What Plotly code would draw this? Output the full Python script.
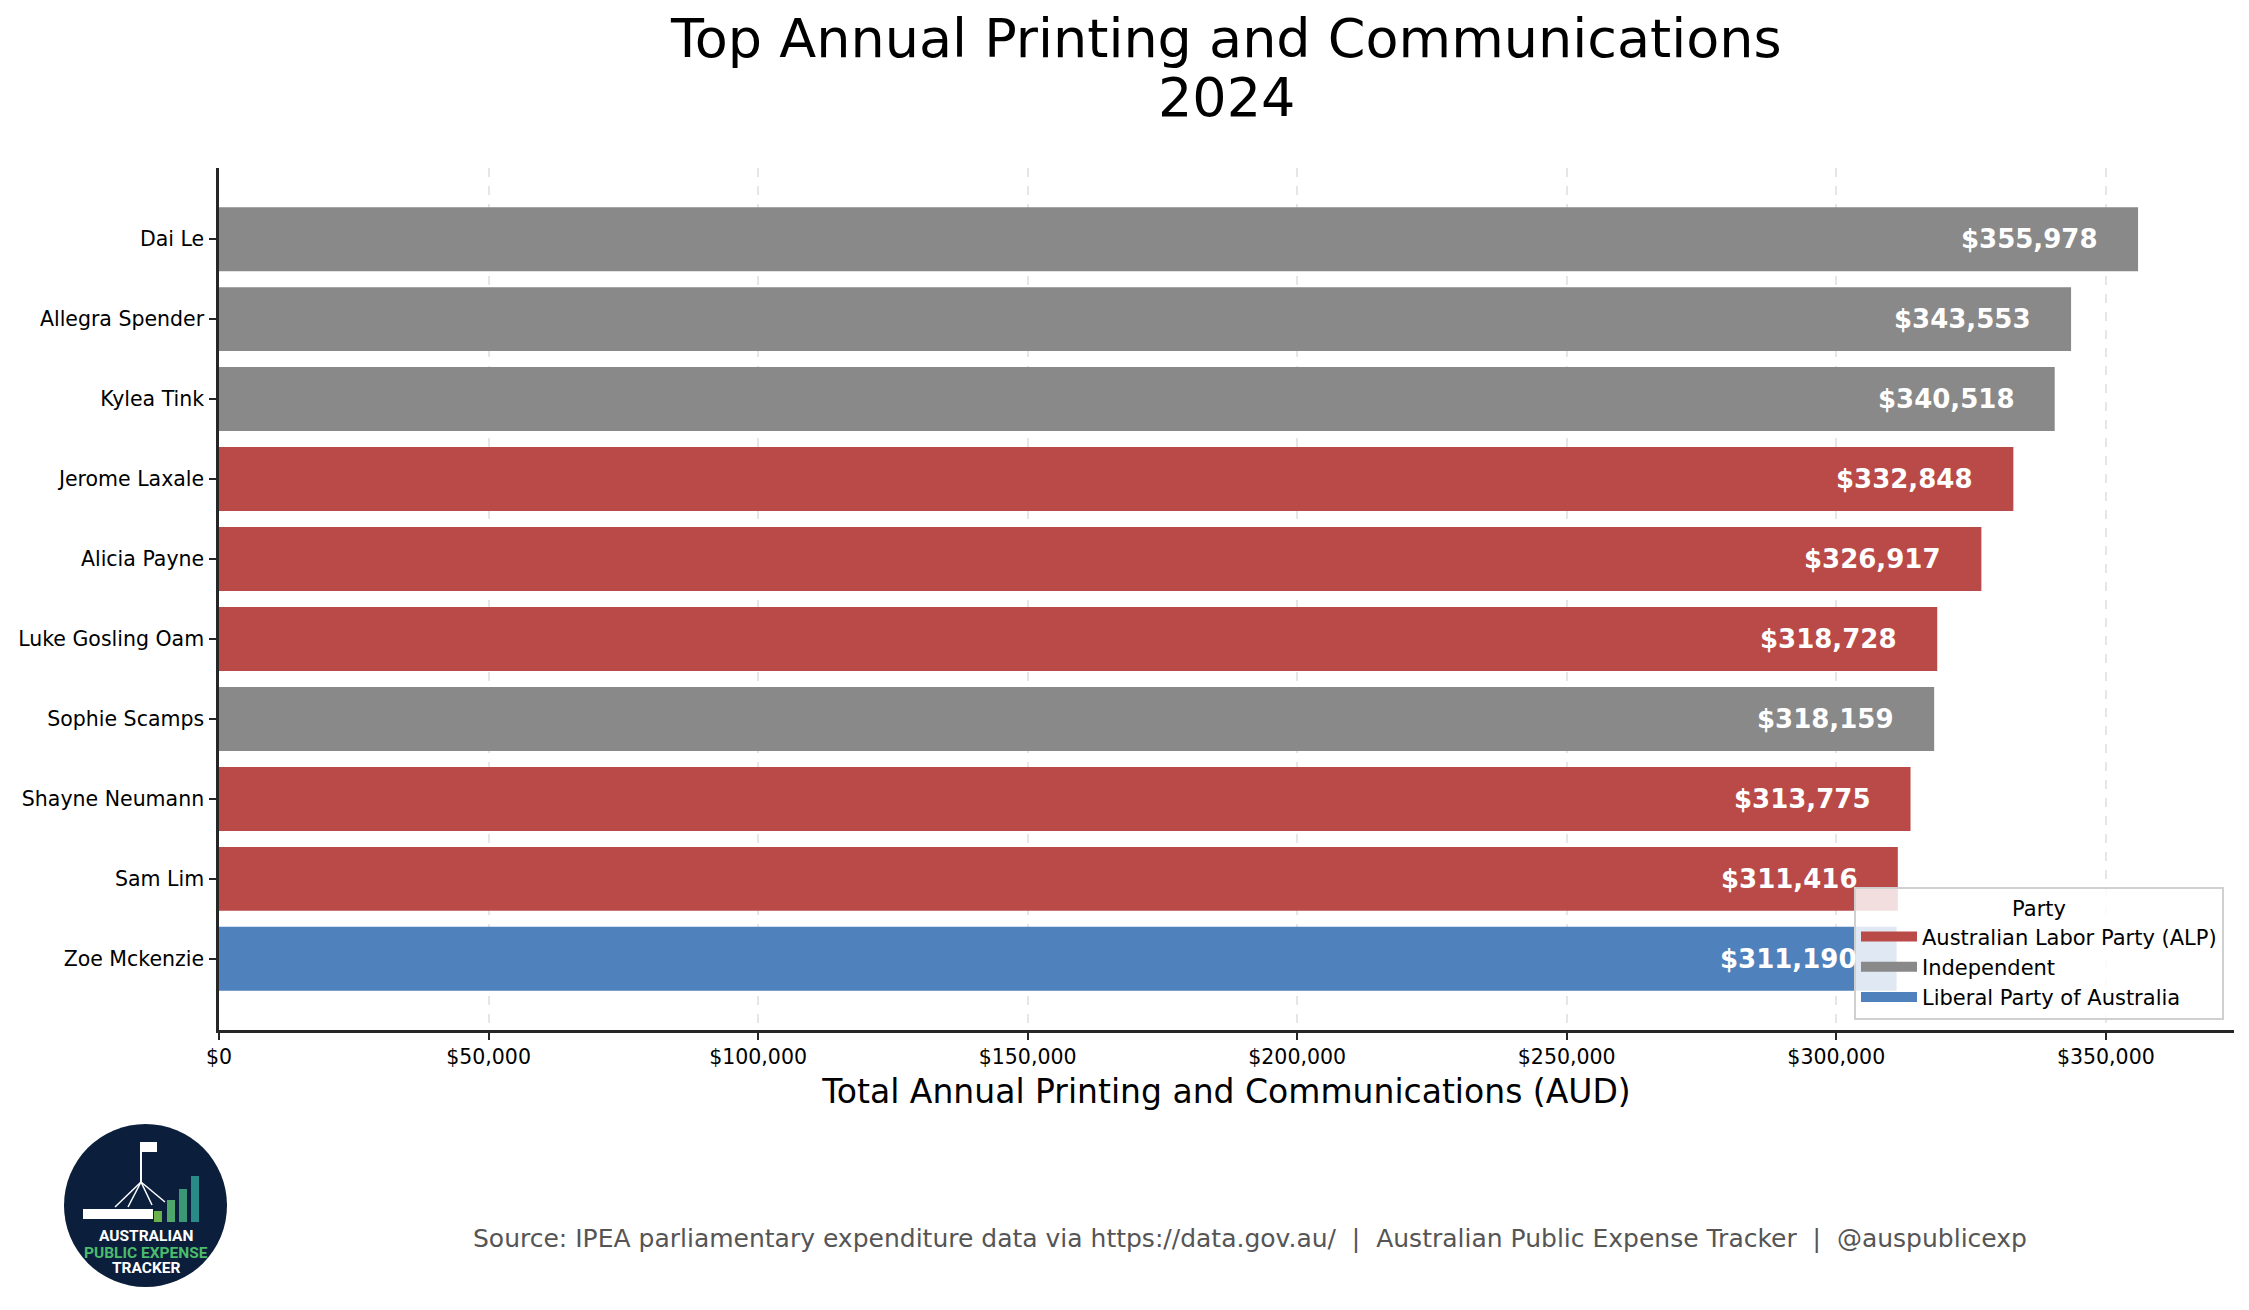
import plotly.graph_objects as go

# data
members = [
    "Dai Le", "Allegra Spender", "Kylea Tink", "Jerome Laxale", "Alicia Payne",
    "Luke Gosling Oam", "Sophie Scamps", "Shayne Neumann", "Sam Lim", "Zoe Mckenzie",
]
totals = [355978, 343553, 340518, 332848, 326917, 318728, 318159, 313775, 311416, 311190]
parties = [
    "Independent", "Independent", "Independent",
    "Australian Labor Party (ALP)", "Australian Labor Party (ALP)", "Australian Labor Party (ALP)",
    "Independent",
    "Australian Labor Party (ALP)", "Australian Labor Party (ALP)",
    "Liberal Party of Australia",
]
legend_order = ["Australian Labor Party (ALP)", "Independent", "Liberal Party of Australia"]
party_colors = {
    "Australian Labor Party (ALP)": "#b94a48",
    "Independent": "#898989",
    "Liberal Party of Australia": "#4f81bd",
}
x_ticks = [0, 50000, 100000, 150000, 200000, 250000, 300000, 350000]
x_tick_text = [f"${v:,}" for v in x_ticks]

# the page puts the figure 8px in from the top-left corner
OFF = 8
W, H = 2249 - 2 * OFF, 1310 - 2 * OFF
# plot area in page pixels (from the reference)
PL, PR, PT, PB = 219, 2234, 168, 1030
PW, PH = PR - PL, PB - PT
FONT = "DejaVu Sans"


def px_x(p):
    return (p - PL) / PW


def px_y(p):
    return (PB - p) / PH


fig = go.Figure()
fig.add_trace(go.Bar(
    x=totals, y=members, orientation="h", width=0.8,
    marker=dict(color=[party_colors[p] for p in parties], line=dict(width=0)),
    showlegend=False, hoverinfo="x+y",
))

# legend entries (wide patches like the original)
for p in legend_order:
    fig.add_trace(go.Scatter(
        x=[None], y=[None], mode="lines", name=p,
        line=dict(color=party_colors[p], width=13),
    ))

# value labels inside the bars
for m, v in zip(members, totals):
    fig.add_annotation(
        x=v, y=m, text=f"<b>${v:,.0f}</b>", showarrow=False,
        xanchor="right", xshift=-38,
        font=dict(family=FONT, size=26, color="white"),
    )

# title (two lines)
for txt, yy in [("Top Annual Printing and Communications", 38), ("2024", 97)]:
    fig.add_annotation(
        text=txt, xref="paper", yref="paper", x=px_x(1226), y=px_y(yy),
        xanchor="center", yanchor="middle", showarrow=False,
        font=dict(family=FONT, size=54, color="black"),
    )

fig.update_layout(
    width=W, height=H,
    margin=dict(l=PL - OFF, r=W - (PR - OFF), t=PT - OFF, b=H - (PB - OFF), autoexpand=False),
    paper_bgcolor="white", plot_bgcolor="white",
    font=dict(family=FONT, color="black"),
    barmode="overlay",
    legend=dict(
        title=dict(text="Party", side="top center", font=dict(size=21)),
        x=px_x(2224), xanchor="right", y=px_y(1020), yanchor="bottom",
        bgcolor="rgba(255,255,255,0.82)", bordercolor="#d0d0d0", borderwidth=2,
        font=dict(family=FONT, size=21, color="black"),
        itemwidth=56,
    ),
    showlegend=True,
)

fig.update_xaxes(
    range=[0, max(totals) * 1.05],
    tickvals=x_ticks, ticktext=x_tick_text,
    tickfont=dict(family=FONT, size=20.5, color="black"),
    ticks="outside", ticklen=7, tickwidth=2, tickcolor="#262626",
    showline=True, linecolor="#262626", linewidth=2.5, mirror=False,
    showgrid=True, gridcolor="#e6e6e6", gridwidth=1.5, griddash="dash",
    zeroline=False,
    title=dict(text="Total Annual Printing and Communications (AUD)",
               font=dict(family=FONT, size=33, color="black"), standoff=12),
)
fig.update_yaxes(
    categoryorder="array", categoryarray=members,
    range=[len(members) - 0.11, -0.89],
    tickfont=dict(family=FONT, size=20.5, color="black"),
    ticks="outside", ticklen=7, tickwidth=2, tickcolor="#262626",
    ticklabelstandoff=1,
    showline=True, linecolor="#262626", linewidth=2.5, mirror=False,
    showgrid=False, zeroline=False,
)

# source line
fig.add_annotation(
    text="Source: IPEA parliamentary expenditure data via https://data.gov.au/  |  "
         "Australian Public Expense Tracker  |  @auspublicexp",
    xref="paper", yref="paper", x=px_x(1250), y=px_y(1238),
    xanchor="center", yanchor="middle", showarrow=False,
    font=dict(family=FONT, size=25, color="#555555"),
)

# logo badge
shapes = [
    dict(type="circle", xref="paper", yref="paper",
         x0=px_x(64), x1=px_x(227), y0=px_y(1287), y1=px_y(1124),
         fillcolor="#0b1e3b", line=dict(width=0), layer="above"),
    dict(type="rect", xref="paper", yref="paper",
         x0=px_x(83), x1=px_x(153), y0=px_y(1219), y1=px_y(1209),
         fillcolor="white", line=dict(width=0)),
    dict(type="line", xref="paper", yref="paper",
         x0=px_x(141), x1=px_x(141), y0=px_y(1182), y1=px_y(1142),
         line=dict(color="white", width=2)),
    dict(type="rect", xref="paper", yref="paper",
         x0=px_x(142), x1=px_x(157), y0=px_y(1152), y1=px_y(1142),
         fillcolor="white", line=dict(width=0)),
]
for end in [(115, 1207), (128, 1207), (152, 1205), (165, 1202)]:
    shapes.append(dict(type="line", xref="paper", yref="paper",
                       x0=px_x(141), y0=px_y(1182), x1=px_x(end[0]), y1=px_y(end[1]),
                       line=dict(color="white", width=1.5)))
for (x0, x1, top, col) in [(154, 162, 1211, "#6ab04c"), (167, 175, 1200, "#4fa66a"),
                           (179, 187, 1189, "#3b9877"), (191, 199, 1176, "#2a8a88")]:
    shapes.append(dict(type="rect", xref="paper", yref="paper",
                       x0=px_x(x0), x1=px_x(x1), y0=px_y(1222), y1=px_y(top),
                       fillcolor=col, line=dict(width=0)))
fig.update_layout(shapes=shapes)

for txt, yy, col in [("AUSTRALIAN", 1236, "white"), ("PUBLIC EXPENSE", 1253, "#4cbb6c"),
                     ("TRACKER", 1268, "white")]:
    fig.add_annotation(
        text=f"<b>{txt}</b>", xref="paper", yref="paper", x=px_x(146), y=px_y(yy),
        xanchor="center", yanchor="middle", showarrow=False,
        font=dict(family="Roboto", size=15.5, color=col),
    )

fig.write_html("out.html")
